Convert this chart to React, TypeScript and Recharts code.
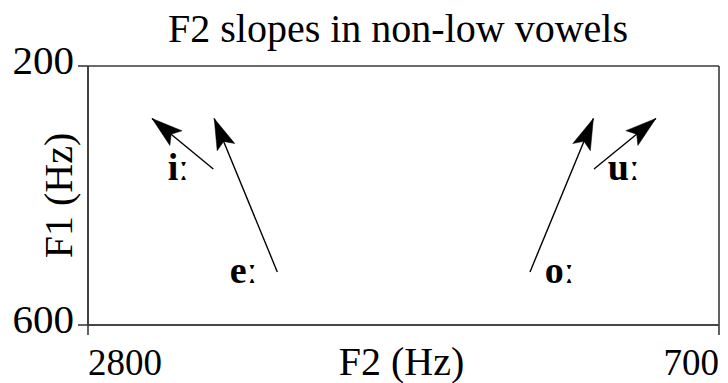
import { ComposedChart, Line, Scatter, XAxis, YAxis, CartesianGrid, Label, Customized } from 'recharts';

// vowel formant transitions (onset -> offset), F1/F2 in Hz
const vowels = ['iː', 'eː', 'oː', 'uː'];
const onsetF2 = [2383, 2170, 1329, 1116];
const onsetF1 = [359, 518, 518, 359];
const offsetF2 = [2587, 2380, 1118, 910];
const offsetF1 = [281, 281, 281, 281];
// where each vowel symbol sits (text start / baseline)
const labelF2 = [2535, 2328, 1280, 1070];
const labelF1 = [376, 535, 535, 376];

const f2Ticks = [2800, 700];
const f1Ticks = [200, 600];

const FONT = '"Liberation Serif", "Times New Roman", serif';
const AXIS = '#3a3a3a';

const arrows = vowels.map((v, i) => ({
  name: v,
  points: [
    { f2: onsetF2[i], f1: onsetF1[i] },
    { f2: offsetF2[i], f1: offsetF1[i] }
  ]
}));

const labels = vowels.map((v, i) => ({ name: v, f2: labelF2[i], f1: labelF1[i] }));

const ArrowHead = (props: any) => {
  const { cx, cy, index, points } = props;
  if (!points || index !== points.length - 1 || index === 0) return <g key={`h-${index}`} />;
  const prev = points[index - 1];
  const dx = cx - prev.x;
  const dy = cy - prev.y;
  const len = Math.hypot(dx, dy) || 1;
  const ux = dx / len;
  const uy = dy / len;
  const nx = -uy;
  const ny = ux;
  const L = 31;
  const W = 9.5;
  const bx = cx - L * ux;
  const by = cy - L * uy;
  const mx = cx - 0.8 * L * ux;
  const my = cy - 0.8 * L * uy;
  const d = `M${cx},${cy} L${bx + W * nx},${by + W * ny} L${mx},${my} L${bx - W * nx},${by - W * ny} Z`;
  return <path key={`h-${index}`} d={d} fill="#000" stroke="#000" strokeWidth={0.5} />;
};

const VowelLabel = (props: any) => {
  const { cx, cy, payload } = props;
  return (
    <text x={cx} y={cy} fontFamily={FONT} fontSize={38} fontWeight="bold" fill="#000">
      {payload.name}
    </text>
  );
};

const XTick = (props: any) => {
  const { x, y, payload } = props;
  return (
    <text
      x={x}
      y={y + 40}
      textAnchor={payload.value === f2Ticks[0] ? 'start' : 'end'}
      fontFamily={FONT}
      fontSize={37}
      fill="#000"
    >
      {payload.value}
    </text>
  );
};

const YTick = (props: any) => {
  const { x, y, payload } = props;
  return (
    <text x={x - 4} y={y + 8} textAnchor="end" fontFamily={FONT} fontSize={41} fill="#000">
      {payload.value}
    </text>
  );
};

const XTitle = (props: any) => {
  const { x, y, width } = props.viewBox;
  return (
    <text x={x + width / 2 - 2} y={y + 50} textAnchor="middle" fontFamily={FONT} fontSize={40} fill="#000">
      F2 (Hz)
    </text>
  );
};

const YTitle = (props: any) => {
  const { x, y, height } = props.viewBox;
  const tx = x + 72;
  const ty = y + height / 2;
  return (
    <text
      x={tx}
      y={ty}
      transform={`rotate(-90 ${tx} ${ty})`}
      textAnchor="middle"
      fontFamily={FONT}
      fontSize={40}
      fill="#000"
    >
      F1 (Hz)
    </text>
  );
};

const ChartTitle = () => (
  <text x={398} y={42} textAnchor="middle" fontFamily={FONT} fontSize={40} fill="#000">
    F2 slopes in non-low vowels
  </text>
);

export default function App() {
  return (
    <div style={{ position: 'absolute', left: 0, top: 0, width: 728, height: 383, background: '#fff' }}>
      <ComposedChart width={728} height={383} margin={{ top: 66, right: 9, bottom: 0, left: 0 }}>
        <CartesianGrid stroke={AXIS} strokeWidth={1.6} fill="none" />
        <XAxis
          type="number"
          dataKey="f2"
          domain={[700, 2800]}
          reversed
          allowDataOverflow
          ticks={f2Ticks}
          interval={0}
          tickSize={10}
          tickMargin={0}
          height={58}
          stroke={AXIS}
          strokeWidth={1.6}
          tick={<XTick />}
        >
          <Label content={<XTitle />} />
        </XAxis>
        <YAxis
          type="number"
          dataKey="f1"
          domain={[200, 600]}
          reversed
          allowDataOverflow
          ticks={f1Ticks}
          interval={0}
          tickSize={10}
          tickMargin={0}
          width={88}
          stroke={AXIS}
          strokeWidth={1.6}
          tick={<YTick />}
        >
          <Label content={<YTitle />} />
        </YAxis>
        {arrows.map((a) => (
          <Line
            key={a.name}
            data={a.points}
            dataKey="f1"
            stroke="#000"
            strokeWidth={1.4}
            dot={ArrowHead}
            activeDot={false}
            legendType="none"
            isAnimationActive={false}
          />
        ))}
        <Scatter data={labels} dataKey="f1" shape={VowelLabel} isAnimationActive={false} />
        <Customized component={ChartTitle} />
      </ComposedChart>
    </div>
  );
}
